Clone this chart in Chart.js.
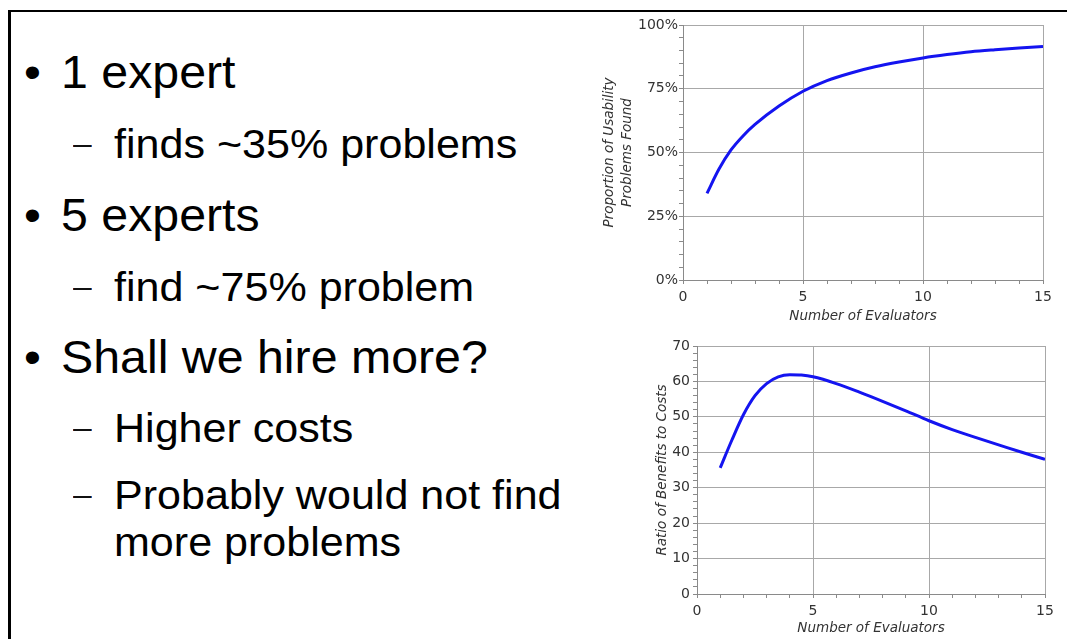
<!DOCTYPE html>
<html>
<head>
<meta charset="utf-8">
<script src="https://cdn.jsdelivr.net/npm/chart.js@4.4.0/dist/chart.umd.min.js"></script>
<style>
  body { margin: 0; width: 1067px; height: 639px; background: #fff; position: relative; overflow: hidden; font-family: "Liberation Sans", Arial, sans-serif; }
  .frameTop { position: absolute; left: 8px; top: 10px; width: 1059px; height: 2px; background: #000; }
  .frameLeft { position: absolute; left: 8px; top: 10px; width: 3px; height: 629px; background: #000; }
  .txt { position: absolute; white-space: nowrap; color: #000; transform-origin: 0 0; transform: scaleX(1.05); }
  .main { font-size: 46px; line-height: 46px; }
  .sub { font-size: 41px; line-height: 41px; }
  .dash { font-size: 32px; line-height: 41px; color: #111; }
  .box { position: absolute; }
</style>
</head>
<body>
<div class="frameTop"></div>
<div class="frameLeft"></div>

<div class="txt main" style="left:24px;top:49px">•</div>
<div class="txt main" style="left:61px;top:49px">1 expert</div>
<div class="txt dash" style="left:73px;top:123px">–</div>
<div class="txt sub" style="left:114px;top:124px">finds ~35% problems</div>

<div class="txt main" style="left:24px;top:192px">•</div>
<div class="txt main" style="left:61px;top:192px">5 experts</div>
<div class="txt dash" style="left:73px;top:266px">–</div>
<div class="txt sub" style="left:114px;top:267px">find ~75% problem</div>

<div class="txt main" style="left:24px;top:334px">•</div>
<div class="txt main" style="left:61px;top:334px">Shall we hire more?</div>
<div class="txt dash" style="left:73px;top:407px">–</div>
<div class="txt sub" style="left:114px;top:408px">Higher costs</div>
<div class="txt dash" style="left:73px;top:474px">–</div>
<div class="txt sub" style="left:114px;top:475px">Probably would not find</div>
<div class="txt sub" style="left:114px;top:522px">more problems</div>

<div class="box" style="left:590px;top:12px;width:470px;height:316px"><canvas id="foundChart"></canvas></div>
<div class="box" style="left:590px;top:332px;width:470px;height:307px"><canvas id="ratioChart"></canvas></div>

<script>
// proportion of usability problems found
const evaluators = [1, 1.5, 2, 2.5, 3, 4, 5, 6, 7, 8, 9, 10, 11, 12, 13, 14, 15]
const foundPct = [34, 43.5, 51, 56.5, 61, 68.2, 74, 78.2, 81.2, 83.6, 85.5, 87.1, 88.4, 89.5, 90.3, 91, 91.6]

// ratio of benefits to costs
const ratioEvaluators = [1, 1.5, 2, 2.5, 3, 3.5, 4, 4.5, 5, 6, 7, 8, 9, 10, 11, 12, 13, 14, 15]
const ratioValues = [35.6, 43.4, 50.6, 56, 59.4, 61.3, 61.9, 61.8, 61.3, 59.4, 57, 54.4, 51.7, 48.9, 46.4, 44.2, 42.1, 40, 38]

const xTitle = 'Number of Evaluators'
const foundTitle = ['Proportion of Usability', 'Problems Found']
const ratioTitle = 'Ratio of Benefits to Costs'

const gridColor = '#a8a8a8'
const tickColor = '#8a8a8a'
const tickFont = { family: 'DejaVu Sans', size: 14 }
const titleFont = { family: 'DejaVu Sans', size: 13.5, style: 'italic', lineHeight: 1.35 }

function makeChart(id, xs, ys, o) {
    const ctx = document.getElementById(id).getContext('2d')
    return new Chart(ctx, {
        type: 'line',
        data: {
            datasets: [{
                data: xs.map((x, i) => ({ x: x, y: ys[i] })),
                borderColor: '#1414f0',
                borderWidth: 3,
                pointRadius: 0,
                fill: false,
                cubicInterpolationMode: 'monotone'
            }]
        },
        options: {
            responsive: true,
            maintainAspectRatio: false,
            animation: false,
            layout: { padding: { top: o.padTop, right: o.padRight, left: 0, bottom: 0 } },
            plugins: { legend: { display: false }, tooltip: { enabled: false } },
            scales: {
                x: {
                    type: 'linear', min: 0, max: 15,
                    afterFit: (s) => { s.height = o.xHeight },
                    ticks: {
                        stepSize: 1, autoSkip: false, maxRotation: 0, padding: 5,
                        color: '#333', font: tickFont,
                        callback: (v) => v % 5 === 0 ? String(v) : ''
                    },
                    grid: {
                        color: (c) => c.tick && c.tick.value % 5 === 0 ? gridColor : 'rgba(0,0,0,0)',
                        tickColor: tickColor, tickLength: 4
                    },
                    border: { color: tickColor },
                    title: { display: true, text: xTitle, color: '#333', font: titleFont, padding: { top: 0, bottom: o.xTitlePad } }
                },
                y: {
                    type: 'linear', min: 0, max: o.yMax,
                    afterFit: (s) => { s.width = o.yWidth },
                    ticks: {
                        stepSize: o.yStep, autoSkip: false, padding: o.yTickPad,
                        color: '#333', font: tickFont,
                        callback: (v) => v % o.yLabelEvery === 0 ? v + o.ySuffix : ''
                    },
                    grid: {
                        color: (c) => c.tick && c.tick.value % o.yLabelEvery === 0 ? gridColor : 'rgba(0,0,0,0)',
                        tickColor: tickColor, tickLength: 4
                    },
                    border: { color: tickColor },
                    title: { display: true, text: o.yTitle, color: '#333', font: titleFont, padding: { top: o.yTitlePad, bottom: 0 } }
                }
            }
        }
    })
}

makeChart('foundChart', evaluators, foundPct, {
    yMax: 100, yStep: 5, yLabelEvery: 25, ySuffix: '%', yTitle: foundTitle,
    padTop: 13, padRight: 17, yWidth: 93, xHeight: 48, xTitlePad: 2, yTitlePad: 10, yTickPad: 1
})

makeChart('ratioChart', ratioEvaluators, ratioValues, {
    yMax: 70, yStep: 2, yLabelEvery: 10, ySuffix: '', yTitle: ratioTitle,
    padTop: 14, padRight: 15, yWidth: 107, xHeight: 45, xTitlePad: 1, yTitlePad: 63, yTickPad: 3
})
</script>
</body>
</html>
